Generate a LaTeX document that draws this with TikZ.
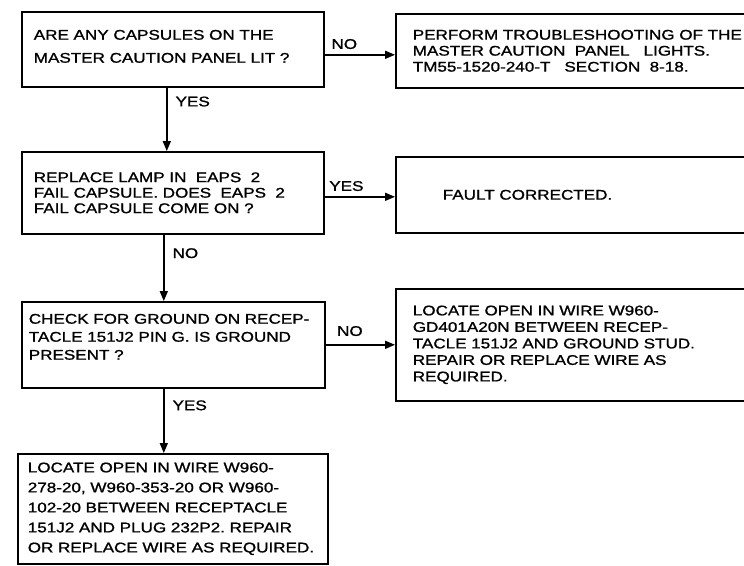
\documentclass[tikz,border=0pt]{standalone}
\usepackage{fontspec}
\setmainfont{Liberation Sans}[FakeStretch=1.22,FakeBold=1.2]
\usetikzlibrary{arrows.meta,calc}
\frenchspacing

\tikzset{
  box/.style={draw,line width=1.6pt,anchor=north west,align=left,inner xsep=0pt,inner ysep=0pt},
  lbl/.style={font=\fontsize{14}{16}\selectfont,inner sep=2pt},
}

\begin{document}
\begin{tikzpicture}[x=1pt,y=-1pt,>={Triangle[length=10pt,width=8pt]},line width=1.6pt]
\useasboundingbox (0,0) rectangle (744,565);
\clip (0,0) rectangle (744,565);
% questions down the left
\node[box,minimum width=302pt,minimum height=75pt,text width=278pt,font=\fontsize{14}{23}\selectfont] (q1) at (21,11)
  {ARE ANY CAPSULES ON THE\\MASTER CAUTION PANEL LIT ?\\[-17pt]\mbox{}};
\node[box,minimum width=302pt,minimum height=82pt,text width=278pt,font=\fontsize{14}{15.5}\selectfont] (q2) at (21,151)
  {REPLACE LAMP IN~ EAPS~ 2\\FAIL CAPSULE. DOES~ EAPS~ 2\\FAIL CAPSULE COME ON ?};
\node[box,minimum width=303pt,minimum height=86pt,text width=289pt,font=\fontsize{14}{18}\selectfont] (q3) at (21,301)
  {CHECK FOR GROUND ON RECEP-\\TACLE 151J2 PIN G. IS GROUND\\PRESENT ?\\[-2pt]\mbox{}};
\node[box,minimum width=310pt,minimum height=110pt,text width=290pt,font=\fontsize{14}{20}\selectfont] (r4) at (17,453)
  {LOCATE OPEN IN WIRE W960-\\278-20, W960-353-20 OR W960-\\102-20 BETWEEN RECEPTACLE\\151J2 AND PLUG 232P2. REPAIR\\OR REPLACE WIRE AS REQUIRED.};
% results on the right
\node[box,minimum width=405pt,minimum height=74pt,text width=371pt,font=\fontsize{14}{16}\selectfont] (r1) at (395,13)
  {PERFORM TROUBLESHOOTING OF THE\\MASTER CAUTION~ PANEL~~ LIGHTS.\\TM55-1520-240-T~~ SECTION~ 8-18.};
\node[box,minimum width=405pt,minimum height=76pt,text width=311pt,font=\fontsize{14}{16}\selectfont] (r2) at (395,156)
  {FAULT CORRECTED.};
\node[box,minimum width=405pt,minimum height=112pt,text width=371pt,font=\fontsize{14}{16.5}\selectfont] (r3) at (395,288)
  {LOCATE OPEN IN WIRE W960-\\GD401A20N BETWEEN RECEP-\\TACLE 151J2 AND GROUND STUD.\\REPAIR OR REPLACE WIRE AS\\REQUIRED.};
% connectors
\coordinate (a1) at ($(q1.east)+(0,5.5)$);
\coordinate (a2) at ($(q2.east)+(0,4)$);
\coordinate (d1) at ($(q1.south)+(-6,0)$);
\coordinate (d2) at ($(q2.south)+(-9,0)$);
\coordinate (d3) at ($(q3.south)+(-9.5,0)$);
\draw[->] (a1) -- (a1 -| r1.west) node[lbl,pos=0.28,above=3pt] (n1) {NO};
\draw[->] (d1) -- (d1 |- q2.north) node[lbl,pos=0.22,right=6pt] (y1) {YES};
\draw[->] (a2) -- (a2 -| r2.west) node[lbl,pos=0.31,above=3pt] (y2) {YES};
\draw[->] (d2) -- (d2 |- q3.north) node[lbl,pos=0.28,right=6pt] (n2) {NO};
\draw[->] (q3.east) -- (q3.east -| r3.west) node[lbl,pos=0.35,above=6pt] (n3) {NO};
\draw[->] (d3) -- (d3 |- r4.north) node[lbl,pos=0.26,right=6pt] (y3) {YES};
\end{tikzpicture}
\end{document}
